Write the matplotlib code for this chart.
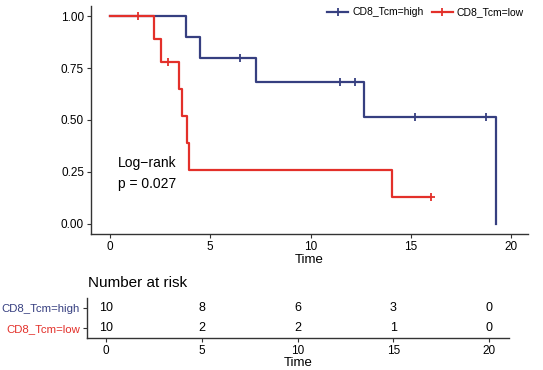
import numpy as np
import matplotlib
matplotlib.use("Agg")
import matplotlib.pyplot as plt
from matplotlib.lines import Line2D

plt.rcParams['font.family'] = ['Liberation Sans', 'DejaVu Sans']

# Data: times and status (1 = event, 0 = censored)
high_time = [3.8, 4.5, 6.48, 7.28, 11.45, 12.23, 12.65, 15.2, 18.75, 19.25]
high_status = [1, 1, 0, 1, 0, 0, 1, 0, 0, 1]
low_time = [1.4, 2.17, 2.55, 2.9, 3.42, 3.57, 3.83, 3.95, 14.07, 16.0]
low_status = [0, 1, 1, 0, 1, 1, 1, 1, 1, 0]

groups = ["CD8_Tcm=high", "CD8_Tcm=low"]
colors = ["#363F80", "#E3302A"]
risk_times = [0, 5, 10, 15, 20]
risk_high = [10, 8, 6, 3, 0]
risk_low = [10, 2, 2, 1, 0]
x_ticks = [0, 5, 10, 15, 20]
y_ticks = [0.00, 0.25, 0.50, 0.75, 1.00]
pval_text = "Log\u2212rank\np = 0.027"


def km(times, status):
    t = np.array(times, float)
    s = np.array(status, int)
    order = np.argsort(t)
    t, s = t[order], s[order]
    n = len(t)
    xs, ys = [0.0], [1.0]
    cens_x, cens_y = [], []
    surv = 1.0
    at_risk = n
    for ti, si in zip(t, s):
        if si == 1:
            surv *= (at_risk - 1) / at_risk
            xs.append(ti)
            ys.append(surv)
        else:
            cens_x.append(ti)
            cens_y.append(surv)
        at_risk -= 1
    xs.append(t.max())
    ys.append(surv)
    return xs, ys, cens_x, cens_y


W, H = 543, 370
fig = plt.figure(figsize=(W / 100, H / 100), dpi=100)

# main axes
ax = fig.add_axes([91 / W, 1 - 234 / H, (528 - 91) / W, (234 - 6) / H])
for i, (tm, st) in enumerate([(high_time, high_status), (low_time, low_status)]):
    xs, ys, cx, cy = km(tm, st)
    ax.step(xs, ys, where='post', color=colors[i], lw=1.6)
    ax.plot(cx, cy, ls='none', marker='+', ms=6, mew=1.3, color=colors[i])

ax.set_xlim(-0.95, 20.85)
ax.set_ylim(-0.05, 1.05)
ax.set_xticks(x_ticks)
ax.set_yticks(y_ticks)
ax.set_yticklabels([f"{v:.2f}" for v in y_ticks])
ax.tick_params(labelsize=8.5, length=3, width=0.8, colors='#333333', labelcolor='black', pad=2)
for sp in ['top', 'right']:
    ax.spines[sp].set_visible(False)
for sp in ['left', 'bottom']:
    ax.spines[sp].set_color('#333333')
    ax.spines[sp].set_linewidth(1.0)
ax.set_xlabel("Time", fontsize=9.5, labelpad=1)
ax.text(0.4, 0.243, pval_text, fontsize=10, va='center', ha='left', linespacing=1.6)

handles = [Line2D([0], [0], color=c, lw=1.6, marker='+', ms=6, mew=1.3) for c in colors]
ax.legend(handles, groups, loc='upper right', bbox_to_anchor=(1.0, 1.013), ncol=2,
          frameon=False, fontsize=7.5, handlelength=2.0, handletextpad=0.4,
          columnspacing=0.8, borderaxespad=0)

# risk table axes
ax2 = fig.add_axes([87 / W, 1 - 338 / H, (509 - 87) / W, (338 - 298) / H])
ax2.set_xlim(-(106 - 87) / 19.15, 20 + (509 - 489) / 19.15)
ax2.set_ylim(0.5, 2.5)
for j, v in enumerate(risk_high):
    ax2.text(risk_times[j], 2, str(v), ha='center', va='center', fontsize=9)
for j, v in enumerate(risk_low):
    ax2.text(risk_times[j], 1, str(v), ha='center', va='center', fontsize=9)
ax2.set_yticks([2, 1])
ax2.set_yticklabels(groups)
ax2.set_xticks(x_ticks)
ax2.tick_params(axis='y', labelsize=8.2, length=3, width=0.8, colors='#333333', pad=2)
ax2.tick_params(axis='x', labelsize=8.5, length=3, width=0.8, colors='#333333', pad=2)
for lbl, c in zip(ax2.get_yticklabels(), colors):
    lbl.set_color(c)
for lbl in ax2.get_xticklabels():
    lbl.set_color('black')
for sp in ['top', 'right']:
    ax2.spines[sp].set_visible(False)
for sp in ['left', 'bottom']:
    ax2.spines[sp].set_color('#333333')
    ax2.spines[sp].set_linewidth(1.0)
ax2.set_xlabel("Time", fontsize=9.5, labelpad=0)
fig.text(88 / W, 1 - 283 / H, "Number at risk", fontsize=11, va='center', ha='left')

fig.savefig("out.png", dpi=100, facecolor='white')
